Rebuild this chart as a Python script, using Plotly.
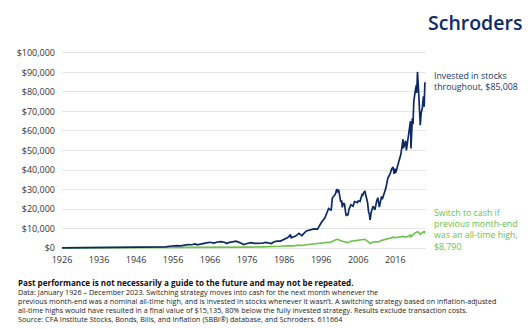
import plotly.graph_objects as go

# Growth of $100, January 1926 - December 2023 (decimal-year dates)
stocks_dates = [
    1926.0, 1927.0, 1928.0, 1929.0, 1929.7, 1930.0, 1931.0, 1932.0, 1932.5, 1933.0,
    1934.0, 1935.0, 1936.0, 1937.1, 1938.0, 1939.0, 1940.0, 1941.0, 1942.0, 1943.0,
    1944.0, 1945.0, 1946.0, 1946.5, 1947.0, 1948.0, 1949.0, 1950.0, 1951.0, 1952.0,
    1953.0, 1954.0, 1955.0, 1956.0, 1957.0, 1958.0, 1959.0, 1960.0, 1961.0, 1962.0,
    1962.5, 1963.0, 1964.0, 1965.0, 1966.0, 1966.8, 1967.0, 1968.0, 1969.0, 1970.0,
    1970.5, 1971.0, 1972.0, 1973.0, 1974.0, 1974.8, 1975.0, 1976.0, 1977.0, 1978.0,
    1979.0, 1980.0, 1981.0, 1982.0, 1982.6, 1983.0, 1984.0, 1985.0, 1986.0, 1987.0,
    1987.7, 1987.9, 1988.0, 1989.0, 1990.0, 1990.8, 1991.0, 1992.0, 1993.0, 1994.0,
    1995.0, 1996.0, 1997.0, 1997.6, 1998.0, 1998.7, 1999.0, 1999.8, 2000.0, 2000.2,
    2000.3, 2000.7, 2001.0, 2001.3, 2001.5, 2001.7, 2002.0, 2002.3, 2002.6, 2002.8,
    2003.0, 2003.2, 2003.5, 2004.0, 2004.6, 2005.0, 2005.8, 2006.0, 2006.5, 2007.0,
    2007.2, 2007.5, 2007.8, 2008.0, 2008.5, 2008.8, 2009.0, 2009.2, 2009.5, 2010.0,
    2010.5, 2011.0, 2011.3, 2011.7, 2012.0, 2012.3, 2012.5, 2013.0, 2013.5, 2014.0,
    2014.6, 2015.0, 2015.4, 2015.7, 2016.0, 2016.1, 2016.6, 2017.0, 2017.5, 2018.0,
    2018.1, 2018.2, 2018.8, 2019.0, 2019.5, 2020.0, 2020.1, 2020.25, 2020.6, 2020.8,
    2021.0, 2021.4, 2021.7, 2021.8, 2022.0, 2022.3, 2022.5, 2022.6, 2022.75, 2023.0,
    2023.3, 2023.6, 2023.8, 2024.0,
]
stocks_values = [
    100, 113, 159, 231, 290, 210, 169, 105, 70, 108,
    165, 160, 229, 320, 191, 258, 257, 230, 185, 204,
    250, 292, 390, 400, 303, 295, 302, 366, 455, 533,
    626, 615, 946, 1240, 1283, 1112, 1567, 1724, 1709, 2154,
    1700, 1940, 2344, 2704, 2984, 2500, 2594, 3121, 3310, 2852,
    2300, 2809, 3110, 3578, 2809, 1650, 1839, 2359, 2786, 2424,
    2369, 2476, 2915, 2544, 2350, 2975, 3512, 3590, 4571, 5357,
    6900, 5000, 5397, 6038, 7587, 6300, 6923, 8770, 9176, 9823,
    9692, 12990, 15473, 18900, 20290, 19300, 25675, 27500, 30265, 30300,
    28500, 29900, 26609, 23500, 24500, 20900, 23088, 22500, 18000, 16400,
    17567, 16800, 19800, 22191, 21500, 23830, 23300, 24173, 24000, 27296,
    27000, 28600, 29000, 27671, 23500, 18500, 17417, 14400, 18400, 21445,
    19600, 24303, 25800, 21000, 24102, 26500, 25000, 27486, 31000, 35859,
    38000, 40455, 41500, 38000, 40720, 38400, 42500, 44663, 47900, 53290,
    55800, 51200, 55000, 50002, 57500, 64263, 65000, 51000, 66500, 63500,
    75064, 80500, 83500, 79500, 90270, 80500, 67500, 73500, 63000, 69440,
    71500, 77700, 72400, 85008,
]

switch_dates = [
    1926.0, 1929.7, 1932.5, 1936.0, 1938.0, 1942.3, 1946.0, 1950.0, 1955.0, 1957.9,
    1962.0, 1962.5, 1966.0, 1966.8, 1969.0, 1970.5, 1973.0, 1974.8, 1977.0, 1980.0,
    1982.6, 1985.0, 1987.7, 1987.9, 1990.0, 1990.8, 1992.0, 1995.0, 1997.0, 1998.7,
    2000.2, 2000.7, 2001.7, 2002.8, 2003.2, 2004.0, 2006.0, 2007.8, 2008.8, 2009.2,
    2010.0, 2011.7, 2012.0, 2014.0, 2015.6, 2016.1, 2018.1, 2018.9, 2020.1, 2020.25,
    2021.0, 2022.0, 2022.3, 2022.75, 2023.0, 2023.6, 2023.8, 2024.0,
]
switch_values = [
    100, 110, 30, 70, 55, 50, 90, 110, 170, 150,
    260, 220, 330, 290, 420, 330, 470, 320, 480, 600,
    620, 900, 1250, 1000, 1500, 1350, 1700, 2200, 2700, 3100,
    4500, 4300, 3500, 2700, 2800, 3500, 3900, 4500, 3100, 2300,
    3100, 3300, 3800, 4800, 5600, 5300, 6000, 5600, 6600, 5800,
    7300, 8400, 8100, 7000, 7500, 8300, 7900, 8790,
]

x_tick_years = [1926, 1936, 1946, 1956, 1966, 1976, 1986, 1996, 2006, 2016]
x_tick_labels = ["1926", "1936", "1946", "1956", "1966", "1976", "1986", "1996", "2006", "2016"]
y_tick_values = [0, 10000, 20000, 30000, 40000, 50000, 60000, 70000, 80000, 90000, 100000]
y_tick_labels = ["$0", "$10,000", "$20,000", "$30,000", "$40,000", "$50,000",
                 "$60,000", "$70,000", "$80,000", "$90,000", "$100,000"]

stocks_label = ["Invested in stocks", "throughout, $85,008"]
switch_label = ["Switch to cash if", "previous month-end", "was an all-time high,", "$8,790"]

footer_heading = "Past performance is not necessarily a guide to the future and may not be repeated."
footer_lines = [
    "Data: January 1926 \u2013 December 2023. Switching strategy moves into cash for the next month whenever the",
    "previous month-end was a nominal all-time high, and is invested in stocks whenever it wasn\u2019t. "
    "A switching strategy based on inflation-adjusted",
    "all-time highs would have resulted in a final value of $15,135, 80% below the fully invested strategy. "
    "Results exclude transaction costs.",
    "Source: CFA Institute Stocks, Bonds, Bills, and Inflation (SBBI\u00ae) database, and Schroders. 611664",
]

NAVY = "#0e2a64"
GREEN = "#6cc24a"
FONT = "Open Sans"

W, H = 530, 329
L, R = 62, 426          # plot area, px
T, B = 50.4, 250.9


def px(x):
    return (x - L) / (R - L)


def py(y):
    return (B - y) / (B - T)


def note(text, x, y, size, color, weight=400):
    return dict(text=text, x=px(x), y=py(y), xref="paper", yref="paper",
                xanchor="left", yanchor="middle", align="left", showarrow=False,
                font=dict(family=FONT, size=size, color=color, weight=weight))


fig = go.Figure()
fig.add_trace(go.Scatter(x=switch_dates, y=switch_values, mode="lines",
                         line=dict(color=GREEN, width=1.6), hoverinfo="skip"))
fig.add_trace(go.Scatter(x=stocks_dates, y=stocks_values, mode="lines",
                         line=dict(color=NAVY, width=1.7), hoverinfo="skip"))

annotations = []
for i, t in enumerate(stocks_label):
    annotations.append(note(t, 432, 76.4 + i * 10.8, 8.8, "#1c3566"))
for i, t in enumerate(switch_label):
    annotations.append(note(t, 432, 213 + i * 11.2, 8.8, GREEN))
annotations.append(note(footer_heading, 16, 282.3, 8.1, "#111111", weight=700))
for i, t in enumerate(footer_lines):
    annotations.append(note(t, 16, 291.6 + i * 9.2, 7.25, "#222222"))
annotations.append(note("Schroders", 426, 22.7, 19.5, NAVY, weight=600))

fig.update_layout(
    width=W, height=H,
    margin=dict(l=L, r=W - R, t=T, b=H - B, pad=0),
    paper_bgcolor="white", plot_bgcolor="white",
    showlegend=False,
    font=dict(family=FONT, color="#333333"),
    annotations=annotations,
    xaxis=dict(range=[1926, 2024.3], tickvals=x_tick_years, ticktext=x_tick_labels,
               showgrid=False, zeroline=False, showline=False, ticks="",
               tickfont=dict(size=9, color="#333333"), ticklabelstandoff=2),
    yaxis=dict(range=[-1500, 101500], tickvals=y_tick_values, ticktext=y_tick_labels,
               showgrid=True, gridcolor="#e6e6e6", gridwidth=1, zeroline=False,
               showline=False, ticks="", tickfont=dict(size=9, color="#333333"),
               ticklabelstandoff=6),
)

fig.write_html("out.html", config={"displayModeBar": False})
